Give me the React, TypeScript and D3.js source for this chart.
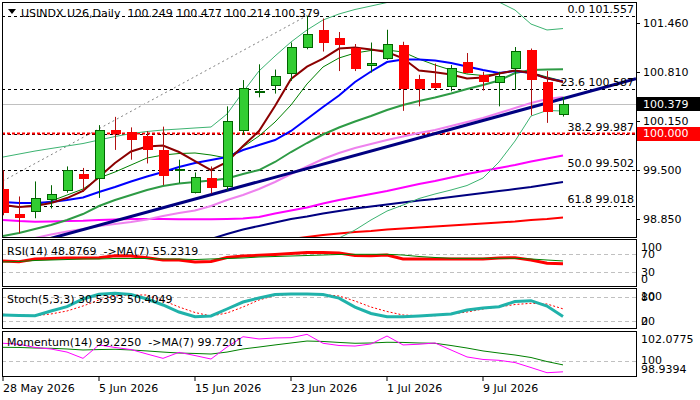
import React from "react";
import * as d3 from "d3";

// time axis: one bar per trading day, labels every 6th bar
const tickBars = [0, 6, 12, 18, 24, 30];
const tickLabels = ["28 May 2026", "5 Jun 2026", "15 Jun 2026", "23 Jun 2026", "1 Jul 2026", "9 Jul 2026"];

// daily candles (USINDX.U26)
const opens = [99.25, 98.92, 98.95, 99.12, 99.23, 99.45, 99.39, 100.04, 100.01, 99.96, 99.77, 99.5, 99.21, 99.39, 99.29, 100.03, 100.55, 100.63, 100.79, 101.14, 101.37, 101.26, 101.13, 100.9, 100.99, 101.17, 100.71, 100.66, 100.62, 100.94, 100.77, 100.67, 100.86, 101.1, 100.67, 100.249];
const highs = [99.5, 99.15, 99.35, 99.3, 99.55, 99.53, 100.1, 100.21, 100.07, 100.02, 100.08, 99.64, 99.47, 99.55, 100.35, 100.7, 100.91, 100.84, 101.2, 101.557, 101.52, 101.34, 101.18, 101.2, 101.37, 101.21, 100.77, 100.92, 100.9, 101.06, 100.81, 100.81, 101.14, 101.12, 100.82, 100.477];
const lows = [98.9, 98.66, 98.86, 98.99, 99.2, 99.21, 99.13, 99.77, 99.64, 99.59, 99.3, 99.33, 99.19, 99.19, 99.23, 99.97, 100.47, 100.52, 100.69, 101.11, 101.08, 100.82, 100.82, 100.8, 100.97, 100.29, 100.35, 100.58, 100.55, 100.79, 100.56, 100.35, 100.57, 100.23, 100.13, 100.214];
const closes = [98.94, 98.88, 99.13, 99.18, 99.5, 99.39, 100.04, 99.99, 99.92, 99.78, 99.43, 99.52, 99.41, 99.28, 100.15, 100.59, 100.56, 100.75, 101.14, 101.32, 101.21, 101.18, 100.86, 100.93, 101.18, 100.6, 100.6, 100.61, 100.86, 100.81, 100.69, 100.75, 101.09, 100.72, 100.29, 100.379];

// moving averages / bands on the price chart
const maFast = [99.036, 99.01, 99.023, 99.063, 99.129, 99.223, 99.409, 99.596, 99.749, 99.815, 99.829, 99.742, 99.622, 99.502, 99.609, 99.822, 100.022, 100.355, 100.714, 100.878, 100.987, 101.12, 101.134, 101.107, 101.074, 100.99, 100.827, 100.803, 100.774, 100.721, 100.734, 100.787, 100.827, 100.794, 100.723, 100.674];
const maBlue = [99.076, 99.063, 99.063, 99.076, 99.103, 99.136, 99.209, 99.276, 99.349, 99.416, 99.476, 99.542, 99.596, 99.635, 99.675, 99.769, 99.835, 99.902, 100.022, 100.181, 100.341, 100.494, 100.674, 100.814, 100.94, 100.974, 100.974, 100.96, 100.927, 100.88, 100.834, 100.794, 100.821, 100.794, 100.723, 100.681];
const maThin = [99.023, 99.01, 99.036, 99.089, 99.169, 99.249, 99.396, 99.476, 99.569, 99.662, 99.702, 99.722, 99.729, 99.702, 99.662, 99.809, 99.955, 100.141, 100.368, 100.648, 100.874, 100.994, 101.06, 101.094, 101.1, 101.074, 100.98, 100.901, 100.834, 100.781, 100.761, 100.787, 100.827, 100.801, 100.741, 100.687];
const bbMid = [98.623, 98.663, 98.717, 98.77, 98.837, 98.916, 99.023, 99.103, 99.169, 99.236, 99.289, 99.323, 99.343, 99.362, 99.389, 99.449, 99.502, 99.609, 99.742, 99.862, 99.975, 100.068, 100.148, 100.221, 100.301, 100.368, 100.421, 100.468, 100.521, 100.581, 100.634, 100.694, 100.794, 100.834, 100.841, 100.843];
const bbUpper = [99.675, 99.715, 99.755, 99.789, 99.822, 99.855, 99.902, 99.948, 99.988, 100.015, 100.035, 100.048, 100.062, 100.075, 100.248, 100.541, 100.821, 101.02, 101.207, 101.367, 101.5, 101.58, 101.64, 101.686, 101.733, 101.779, 101.806, 101.819, 101.806, 101.793, 101.779, 101.739, 101.633, 101.446, 101.367, 101.386];
const bbLower = [null, null, null, null, null, null, null, null, null, null, null, null, null, null, null, null, null, null, null, null, 98.504, 98.597, 98.703, 98.837, 98.956, 99.036, 99.123, 99.183, 99.236, 99.296, 99.396, 99.609, 99.888, 100.221, 100.295, 100.288];
const maViolet = [98.517, 98.557, 98.597, 98.643, 98.683, 98.717, 98.757, 98.783, 98.81, 98.843, 98.89, 98.93, 98.963, 99.023, 99.103, 99.169, 99.249, 99.343, 99.449, 99.549, 99.649, 99.729, 99.795, 99.849, 99.902, 99.948, 99.995, 100.035, 100.088, 100.141, 100.195, 100.261, 100.328, 100.395, 100.448, 100.474];
const maMagenta = [98.837, 98.823, 98.814, 98.817, 98.823, 98.827, 98.837, 98.843, 98.85, 98.85, 98.85, 98.846, 98.846, 98.846, 98.85, 98.856, 98.876, 98.923, 98.963, 99.003, 99.056, 99.103, 99.143, 99.183, 99.223, 99.269, 99.316, 99.356, 99.402, 99.449, 99.489, 99.529, 99.569, 99.616, 99.655, 99.695];
const maNavy = [null, null, null, null, null, null, null, null, null, null, null, null, 98.53, 98.584, 98.65, 98.71, 98.757, 98.803, 98.85, 98.883, 98.923, 98.956, 98.99, 99.016, 99.043, 99.07, 99.096, 99.116, 99.143, 99.169, 99.196, 99.223, 99.249, 99.276, 99.309, 99.343];
const maRed = [null, null, null, null, null, null, null, null, null, null, null, null, null, null, null, null, null, null, 98.584, 98.61, 98.637, 98.657, 98.677, 98.69, 98.71, 98.723, 98.737, 98.75, 98.763, 98.777, 98.79, 98.803, 98.817, 98.837, 98.85, 98.87];

// drawn objects
const trendAnchors = [{ bar: 5, price: 98.709 }, { bar: 35, price: 100.453 }];
const fibAnchors = [{ bar: -16.5, price: 97.447 }, { bar: 19, price: 101.557 }];
const fibLevels = [
  { ratio: "0.0", price: 101.557 },
  { ratio: "23.6", price: 100.587 },
  { ratio: "38.2", price: 99.987 },
  { ratio: "50.0", price: 99.502 },
  { ratio: "61.8", price: 99.018 },
];
const alertLevel = 100.0;
const lastPrice = 100.379;
const priceTicks = [101.46, 100.81, 100.15, 99.5, 98.85];

// indicators
const rsi = [55.1, 53.6, 59.6, 60.7, 61.8, 61.8, 62.4, 66.9, 66.2, 62.4, 57.3, 57.3, 52.9, 54.0, 62.9, 66.2, 67.8, 69.6, 71.8, 74.0, 74.0, 72.9, 67.3, 66.9, 68.4, 59.6, 59.6, 59.6, 59.6, 59.6, 59.6, 61.8, 62.4, 57.3, 50.0, 48.8769];
const rsiMa = [52.9, 54.0, 56.2, 57.3, 58.4, 59.6, 59.6, 60.7, 60.7, 60.7, 59.6, 59.6, 58.4, 59.6, 60.7, 61.8, 64.0, 65.1, 66.2, 67.3, 68.4, 69.6, 70.0, 70.0, 70.0, 68.4, 65.1, 62.9, 61.1, 61.1, 61.1, 61.1, 61.1, 59.6, 57.3, 55.2319];
const stochMain = [34.6, 33.3, 32.8, 44.9, 55.9, 75.6, 87.7, 90.3, 87.2, 75.6, 60.3, 42.3, 30.3, 32.1, 50.0, 67.9, 78.2, 87.2, 88.5, 88.5, 87.2, 78.0, 55.0, 38.5, 30.3, 30.3, 32.1, 34.6, 37.2, 47.4, 52.6, 55.9, 69.2, 71.3, 57.7, 30.5393];
const stochSignal = [36.4, 34.6, 32.8, 37.2, 44.9, 57.7, 73.1, 83.3, 85.9, 85.9, 71.8, 55.1, 41.0, 32.1, 39.7, 55.1, 73.1, 84.6, 87.7, 87.7, 87.2, 83.3, 70.5, 55.0, 43.6, 34.6, 32.8, 32.8, 37.2, 42.3, 50.0, 55.1, 61.5, 64.6, 62.8, 50.4049];
const momentum = [101.27, 101.2, 100.97, 100.86, 100.64, 100.19, 101.15, 100.97, 100.82, 100.5, 100.19, 100.62, 100.39, 100.14, 101.0, 101.74, 101.58, 101.65, 101.67, 101.91, 101.27, 101.11, 101.07, 101.22, 101.79, 101.15, 101.2, 101.29, 100.79, 100.29, 100.11, 100.05, 99.89, 99.53, 99.16, 99.225];
const momentumMa = [100.98, 100.97, 100.93, 100.91, 100.86, 100.79, 100.82, 100.84, 100.79, 100.72, 100.64, 100.57, 100.54, 100.5, 100.64, 100.86, 101.0, 101.15, 101.29, 101.43, 101.4, 101.33, 101.27, 101.29, 101.34, 101.33, 101.29, 101.27, 101.11, 100.93, 100.72, 100.57, 100.43, 100.25, 99.96, 99.7201];

const FONT = "'DejaVu Sans', Tahoma, sans-serif";
const L = 2;
const R = 636;
const panels = {
  main: [2, 237],
  rsi: [239, 286],
  stoch: [288, 328],
  mom: [331, 376],
};

const x = d3.scaleLinear().domain([0, 35]).range([3, 563]);
const yMain = d3.scaleLinear().domain([98.85, 101.46]).range([219, 23]);
const yRsi = d3.scaleLinear().domain([0, 100]).range([285.8, 240.8]);
const ySto = d3.scaleLinear().domain([0, 100]).range([328.5, 289.5]);
const yMom = d3.scaleLinear().domain([98.9394, 102.0775]).range([375.8, 332]);

const crisp = (v) => Math.round(v) + 0.5;

const lineFor = (y) =>
  d3
    .line()
    .defined((v) => v != null)
    .x((_, i) => x(i))
    .y((v) => y(v));

// straight line through two anchors, stretched across the panel
const rayPath = (a, b, y, from, to) => {
  const px = d3.scaleLinear().domain([a.bar, b.bar]).range([a.price, b.price]);
  return d3.line()([
    [x(from), y(px(from))],
    [x(to), y(px(to))],
  ]);
};

const PanelFrame = ({ top, bottom }) => (
  <rect x={L + 0.5} y={top + 0.5} width={R - L} height={bottom - top} fill="none" stroke="#000" />
);

const clampLabel = (v, top, bottom) => Math.max(top + 8, Math.min(bottom - 7, v));

const App = () => {
  const [mt, mb] = panels.main;
  const leftBar = x.invert(L);
  const rightBar = x.invert(R);

  const mainLines = [
    { data: maRed, color: "#ff0000", w: 2 },
    { data: maNavy, color: "#000080", w: 2 },
    { data: maMagenta, color: "#ff00ff", w: 2 },
    { data: maViolet, color: "#ee82ee", w: 2 },
    { data: bbUpper, color: "#3cb371", w: 1 },
    { data: bbLower, color: "#3cb371", w: 1 },
    { data: bbMid, color: "#2e9b45", w: 2 },
    { data: maThin, color: "#008000", w: 1 },
    { data: maBlue, color: "#0000ff", w: 2 },
    { data: maFast, color: "#8b0000", w: 2 },
  ];

  const subLabel = (label, yy) => (
    <text x={641} y={yy} dy="0.35em" fontSize={11} fontFamily={FONT} fill="#000">
      {label}
    </text>
  );

  const [rt, rb] = panels.rsi;
  const [st, sb] = panels.stoch;
  const [ot, ob] = panels.mom;

  return (
    <svg width={700} height={400} style={{ position: "absolute", left: 0, top: 0, background: "#fff" }}>
      <defs>
        <clipPath id="clipMain">
          <rect x={L + 1} y={mt + 1} width={R - L - 1} height={mb - mt - 1} />
        </clipPath>
        <clipPath id="clipRsi">
          <rect x={L + 1} y={rt + 1} width={R - L - 1} height={rb - rt - 1} />
        </clipPath>
        <clipPath id="clipSto">
          <rect x={L + 1} y={st + 1} width={R - L - 1} height={sb - st - 1} />
        </clipPath>
        <clipPath id="clipMom">
          <rect x={L + 1} y={ot + 1} width={R - L - 1} height={ob - ot - 1} />
        </clipPath>
      </defs>
      <rect width={700} height={400} fill="#fff" />

      {/* ---------- main price panel ---------- */}
      <g clipPath="url(#clipMain)">
        {/* fibo retracement */}
        <path
          d={d3.line()(fibAnchors.map((a) => [x(a.bar), yMain(a.price)]))}
          stroke="#808080"
          strokeDasharray="2,3"
          fill="none"
        />
        {fibLevels.map((f) => (
          <line key={f.ratio} x1={L} x2={R} y1={crisp(yMain(f.price))} y2={crisp(yMain(f.price))} stroke="#000" strokeDasharray="3,3" />
        ))}
        <line x1={L} x2={R} y1={crisp(yMain(alertLevel))} y2={crisp(yMain(alertLevel))} stroke="#ff0000" strokeWidth={2} strokeDasharray="3,2" />
        <line x1={L} x2={R} y1={crisp(yMain(lastPrice))} y2={crisp(yMain(lastPrice))} stroke="#c0c0c0" />

        {mainLines.map((l, k) => (
          <path key={k} d={lineFor(yMain)(l.data)} fill="none" stroke={l.color} strokeWidth={l.w} />
        ))}
        <path d={rayPath(trendAnchors[0], trendAnchors[1], yMain, leftBar, rightBar)} stroke="#000080" strokeWidth={3} fill="none" />

        {closes.map((c, i) => {
          const o = opens[i];
          const up = c >= o;
          const cx = Math.round(x(i));
          const top = yMain(Math.max(o, c));
          const bot = yMain(Math.min(o, c));
          return (
            <g key={i}>
              <line x1={cx + 0.5} x2={cx + 0.5} y1={yMain(highs[i])} y2={yMain(lows[i])} stroke={up ? "#006400" : "#b01010"} />
              <rect
                x={cx - 3.5}
                y={Math.round(top) + 0.5}
                width={9}
                height={Math.max(1, Math.round(bot) - Math.round(top))}
                fill={up ? "#32cd32" : "#ff0000"}
                stroke={up ? "#006400" : "#ff0000"}
              />
            </g>
          );
        })}

        {fibLevels.map((f) => (
          <text key={f.ratio} x={634} y={yMain(f.price) - 3} textAnchor="end" fontSize={11} fontFamily={FONT} fill="#000">
            {`${f.ratio} ${f.price.toFixed(3)}`}
          </text>
        ))}
      </g>
      <PanelFrame top={mt} bottom={mb} />

      {/* header */}
      <path d="M8,9 L16,9 L12,14 Z" fill="#000" />
      <text x={21} y={17} fontSize={11} fontFamily={FONT} fill="#000" style={{ whiteSpace: "pre" }}>
        {`USINDX.U26,Daily  ${opens[35].toFixed(3)} ${highs[35].toFixed(3)} ${lows[35].toFixed(3)} ${closes[35].toFixed(3)}`}
      </text>

      {/* price axis */}
      {priceTicks.map((p) => (
        <g key={p}>
          <line x1={R} x2={R + 4} y1={crisp(yMain(p))} y2={crisp(yMain(p))} stroke="#000" />
          <text x={643} y={yMain(p)} dy="0.35em" fontSize={11} fontFamily={FONT} fill="#000">
            {p.toFixed(3)}
          </text>
        </g>
      ))}
      <rect x={637} y={Math.round(yMain(lastPrice)) - 7} width={63} height={14} fill="#000" />
      <text x={643} y={yMain(lastPrice)} dy="0.35em" fontSize={11} fontFamily={FONT} fill="#fff">
        {lastPrice.toFixed(3)}
      </text>
      <rect x={637} y={Math.round(yMain(alertLevel)) - 6} width={63} height={14} fill="#ff0000" />
      <text x={643} y={yMain(alertLevel) + 1} dy="0.35em" fontSize={11} fontFamily={FONT} fill="#fff">
        {alertLevel.toFixed(3)}
      </text>

      {/* ---------- RSI ---------- */}
      <g clipPath="url(#clipRsi)">
        {[70, 30].map((v) => (
          <line key={v} x1={L} x2={R} y1={crisp(yRsi(v))} y2={crisp(yRsi(v))} stroke="#c0c0c0" strokeDasharray="4,3" />
        ))}
        <path d={lineFor(yRsi)(rsi)} fill="none" stroke="#ff0000" strokeWidth={3} />
        <path d={lineFor(yRsi)(rsiMa)} fill="none" stroke="#008000" strokeWidth={1} />
        <text x={7} y={rt + 12} dy="0.35em" fontSize={11} fontFamily={FONT} fill="#000" style={{ whiteSpace: "pre" }}>
          {`RSI(14) ${rsi[35].toFixed(4)}  ->MA(7) ${rsiMa[35].toFixed(4)}`}
        </text>
      </g>
      <PanelFrame top={rt} bottom={rb} />
      {[100, 70, 30, 0].map((v) => subLabel(String(v), clampLabel(yRsi(v), rt, rb)))}

      {/* ---------- Stochastic ---------- */}
      <g clipPath="url(#clipSto)">
        {[80, 20].map((v) => (
          <line key={v} x1={L} x2={R} y1={crisp(ySto(v))} y2={crisp(ySto(v))} stroke="#c0c0c0" strokeDasharray="4,3" />
        ))}
        <path d={lineFor(ySto)(stochSignal)} fill="none" stroke="#ff0000" strokeWidth={1} strokeDasharray="2,2" />
        <path d={lineFor(ySto)(stochMain)} fill="none" stroke="#20b2aa" strokeWidth={3} />
        <text x={7} y={st + 11} dy="0.35em" fontSize={11} fontFamily={FONT} fill="#000">
          {`Stoch(5,3,3) ${stochMain[35].toFixed(4)} ${stochSignal[35].toFixed(4)}`}
        </text>
      </g>
      <PanelFrame top={st} bottom={sb} />
      {[100, 80, 20, 0].map((v) => subLabel(String(v), clampLabel(ySto(v), st, sb)))}

      {/* ---------- Momentum ---------- */}
      <g clipPath="url(#clipMom)">
        <line x1={L} x2={R} y1={crisp(yMom(100))} y2={crisp(yMom(100))} stroke="#c0c0c0" strokeDasharray="4,3" />
        <path d={lineFor(yMom)(momentumMa)} fill="none" stroke="#008000" strokeWidth={1} />
        <path d={lineFor(yMom)(momentum)} fill="none" stroke="#ff00ff" strokeWidth={1} />
        <text x={7} y={ot + 11} dy="0.35em" fontSize={11} fontFamily={FONT} fill="#000" style={{ whiteSpace: "pre" }}>
          {`Momentum(14) ${momentum[35].toFixed(4)}  ->MA(7) ${momentumMa[35].toFixed(4)}`}
        </text>
      </g>
      <PanelFrame top={ot} bottom={ob} />
      {subLabel("102.0775", clampLabel(yMom(102.0775), ot, ob))}
      {subLabel("100", clampLabel(yMom(100), ot, ob) - 1)}
      {subLabel("98.9394", clampLabel(yMom(98.9394), ot, ob))}

      {/* time axis */}
      {tickBars.map((b, k) => (
        <g key={b}>
          <line x1={crisp(x(b)) - 0.5} x2={crisp(x(b)) - 0.5} y1={ob} y2={ob + 5} stroke="#000" />
          <text x={x(b)} y={392} fontSize={11} fontFamily={FONT} fill="#000">
            {tickLabels[k]}
          </text>
        </g>
      ))}
    </svg>
  );
};

export default App;
